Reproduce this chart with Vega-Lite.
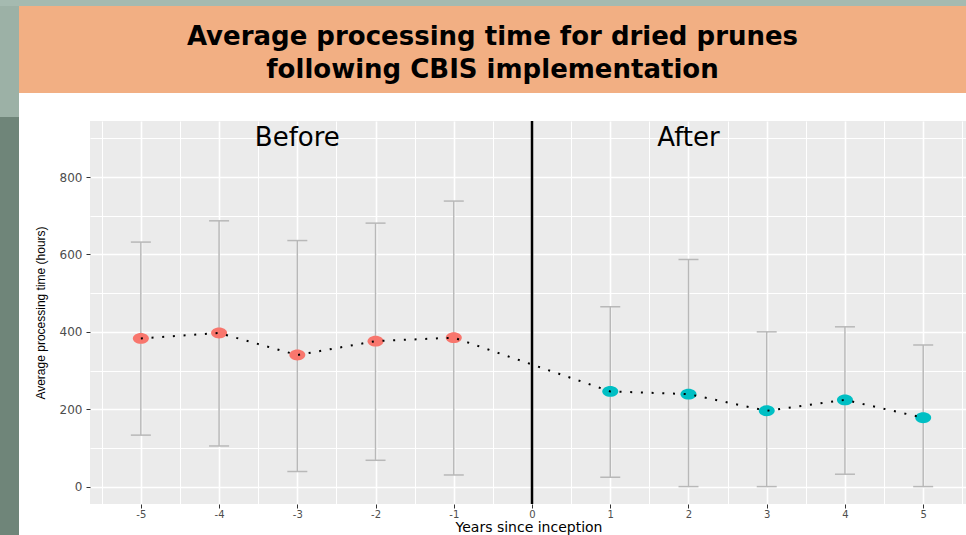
{
  "$schema": "https://vega.github.io/schema/vega-lite/v6.json",
  "background": "#ffffff",
  "padding": 0,
  "spacing": 0,
  "config": {
    "view": {"stroke": null},
    "concat": {"spacing": 0},
    "font": "DejaVu Sans"
  },
  "datasets": {
    "blank": [{"part": "blank"}],
    "heading": [
      {"line": 1, "text": "Average processing time for dried prunes"},
      {"line": 2, "text": "following CBIS implementation"}
    ],
    "prunes": [
      {"year": -5, "mean": 383, "lower": 133, "upper": 632, "period": "Before"},
      {"year": -4, "mean": 397, "lower": 105, "upper": 687, "period": "Before"},
      {"year": -3, "mean": 340, "lower": 39, "upper": 636, "period": "Before"},
      {"year": -2, "mean": 376, "lower": 68, "upper": 681, "period": "Before"},
      {"year": -1, "mean": 385, "lower": 30, "upper": 738, "period": "Before"},
      {"year": 1, "mean": 246, "lower": 24, "upper": 465, "period": "After"},
      {"year": 2, "mean": 239, "lower": 0, "upper": 587, "period": "After"},
      {"year": 3, "mean": 196, "lower": 0, "upper": 400, "period": "After"},
      {"year": 4, "mean": 224, "lower": 32, "upper": 413, "period": "After"},
      {"year": 5, "mean": 178, "lower": 0, "upper": 366, "period": "After"}
    ],
    "phases": [
      {"year": -3, "value": 900, "label": "Before"},
      {"year": 2, "value": 900, "label": "After"}
    ],
    "inception": [{"year": 0}]
  },
  "vconcat": [
    {
      "width": 966,
      "height": 6,
      "view": {"fill": "#A5BAB0", "stroke": null},
      "data": {"name": "blank"},
      "mark": {"type": "rect", "opacity": 0},
      "encoding": {}
    },
    {
      "hconcat": [
        {
          "width": 19,
          "height": 87,
          "view": {"fill": "#9CB1A6", "stroke": null},
          "data": {"name": "blank"},
          "mark": {"type": "rect", "opacity": 0},
          "encoding": {}
        },
        {
          "width": 947,
          "height": 87,
          "view": {"fill": "#F2AF83", "stroke": null},
          "data": {"name": "heading"},
          "mark": {
            "type": "text",
            "font": "DejaVu Sans",
            "fontWeight": "bold",
            "fontSize": 26,
            "color": "#000000",
            "baseline": "middle",
            "align": "center",
            "dy": 4
          },
          "encoding": {
            "y": {"field": "line", "type": "ordinal", "axis": null, "scale": {"type": "point", "padding": 0.78}},
            "text": {"field": "text"}
          }
        }
      ]
    },
    {
      "hconcat": [
        {
          "vconcat": [
            {
              "width": 19,
              "height": 24,
              "view": {"fill": "#9CB1A6", "stroke": null},
              "data": {"name": "blank"},
              "mark": {"type": "rect", "opacity": 0},
              "encoding": {}
            },
            {
              "width": 19,
              "height": 418,
              "view": {"fill": "#6F8579", "stroke": null},
              "data": {"name": "blank"},
              "mark": {"type": "rect", "opacity": 0},
              "encoding": {}
            }
          ]
        },
        {
          "spacing": 25,
          "vconcat": [
            {
              "width": 877,
              "height": 1,
              "data": {"name": "blank"},
              "mark": {"type": "rect", "opacity": 0},
              "encoding": {}
            },
            {
              "width": 877,
              "height": 383,
              "view": {"fill": "#EBEBEB", "stroke": null},
              "resolve": {"axis": {"x": "independent"}},
              "layer": [
                {
                  "data": {"name": "inception"},
                  "mark": {"type": "rule", "opacity": 0},
                  "encoding": {
                    "x": {
                      "field": "year",
                      "type": "quantitative",
                      "scale": {"domain": [-5.65, 5.56], "nice": false, "zero": false},
                      "axis": {
                        "orient": "top",
                        "values": [-5.5, -4.5, -3.5, -2.5, -1.5, -0.5, 0.5, 1.5, 2.5, 3.5, 4.5, 5.5],
                        "labels": false,
                        "ticks": false,
                        "domain": false,
                        "title": null,
                        "grid": true,
                        "gridColor": "#FFFFFF",
                        "gridOpacity": 1,
                        "gridWidth": 1
                      }
                    }
                  }
                },
                {
                  "data": {"name": "prunes"},
                  "mark": {"type": "rule", "color": "#B8B8B8", "strokeWidth": 1.5},
                  "encoding": {
                    "x": {
                      "field": "year",
                      "type": "quantitative",
                      "axis": {
                        "orient": "bottom",
                        "values": [-5, -4, -3, -2, -1, 0, 1, 2, 3, 4, 5],
                        "labelExpr": "'' + datum.value",
                        "title": "Years since inception",
                        "titleFont": "DejaVu Sans",
                        "titleFontSize": 14,
                        "titleFontWeight": "normal",
                        "titleColor": "#000000",
                        "titlePadding": 1,
                        "labelFont": "DejaVu Sans",
                        "labelFontSize": 10,
                        "labelColor": "#4D4D4D",
                        "labelPadding": 1,
                        "labelFlush": false,
                        "labelOverlap": false,
                        "tickSize": 4,
                        "tickColor": "#333333",
                        "tickWidth": 1,
                        "domain": false,
                        "grid": true,
                        "gridColor": "#FFFFFF",
                        "gridOpacity": 1,
                        "gridWidth": 1.6
                      }
                    },
                    "y": {
                      "field": "lower",
                      "type": "quantitative",
                      "scale": {"domain": [-45, 945], "nice": false, "zero": false},
                      "axis": {
                        "values": [0, 100, 200, 300, 400, 500, 600, 700, 800, 900],
                        "labelExpr": "datum.value % 200 === 0 ? '' + datum.value : ''",
                        "title": ["", "Average processing time (hours)"],
                        "titleFont": "Liberation Sans",
                        "titleFontSize": 12,
                        "titleFontWeight": "normal",
                        "titleColor": "#000000",
                        "titleLineHeight": 15,
                        "titlePadding": 12,
                        "labelFont": "DejaVu Sans",
                        "labelFontSize": 12,
                        "labelColor": "#4D4D4D",
                        "labelPadding": 4,
                        "labelOverlap": false,
                        "tickSize": 4,
                        "tickColor": "#333333",
                        "tickWidth": 1,
                        "tickOpacity": {"condition": {"test": "datum.value % 200 !== 0", "value": 0}, "value": 1},
                        "domain": false,
                        "grid": true,
                        "gridColor": "#FFFFFF",
                        "gridOpacity": 1,
                        "gridWidth": {"condition": {"test": "datum.value % 200 !== 0", "value": 1}, "value": 1.6}
                      }
                    },
                    "y2": {"field": "upper"}
                  }
                },
                {
                  "data": {"name": "prunes"},
                  "mark": {"type": "tick", "orient": "horizontal", "size": 20, "thickness": 1.5, "color": "#B8B8B8", "opacity": 1},
                  "encoding": {
                    "x": {"field": "year", "type": "quantitative", "axis": null},
                    "y": {"field": "upper", "type": "quantitative"}
                  }
                },
                {
                  "data": {"name": "prunes"},
                  "mark": {"type": "tick", "orient": "horizontal", "size": 20, "thickness": 1.5, "color": "#B8B8B8", "opacity": 1},
                  "encoding": {
                    "x": {"field": "year", "type": "quantitative", "axis": null},
                    "y": {"field": "lower", "type": "quantitative"}
                  }
                },
                {
                  "data": {"name": "inception"},
                  "mark": {"type": "rule", "color": "#000000", "strokeWidth": 2.5},
                  "encoding": {
                    "x": {"field": "year", "type": "quantitative", "axis": null}
                  }
                },
                {
                  "data": {"name": "prunes"},
                  "mark": {
                    "type": "point",
                    "filled": true,
                    "opacity": 1,
                    "size": 256,
                    "shape": "M-1,0A1,0.68,0,1,0,1,0A1,0.68,0,1,0,-1,0Z"
                  },
                  "encoding": {
                    "x": {"field": "year", "type": "quantitative", "axis": null},
                    "y": {"field": "mean", "type": "quantitative"},
                    "color": {
                      "field": "period",
                      "type": "nominal",
                      "scale": {"domain": ["Before", "After"], "range": ["#F8766D", "#00BFC4"]},
                      "legend": null
                    }
                  }
                },
                {
                  "data": {"name": "prunes"},
                  "mark": {"type": "line", "color": "#000000", "strokeWidth": 2, "strokeDash": [2, 8.7], "strokeCap": "butt"},
                  "encoding": {
                    "x": {"field": "year", "type": "quantitative", "axis": null},
                    "y": {"field": "mean", "type": "quantitative"}
                  }
                },
                {
                  "data": {"name": "phases"},
                  "mark": {"type": "text", "font": "DejaVu Sans", "fontSize": 26, "color": "#000000", "baseline": "middle", "align": "center"},
                  "encoding": {
                    "x": {"field": "year", "type": "quantitative", "axis": null},
                    "y": {"field": "value", "type": "quantitative"},
                    "text": {"field": "label"}
                  }
                }
              ]
            }
          ]
        }
      ]
    }
  ]
}
